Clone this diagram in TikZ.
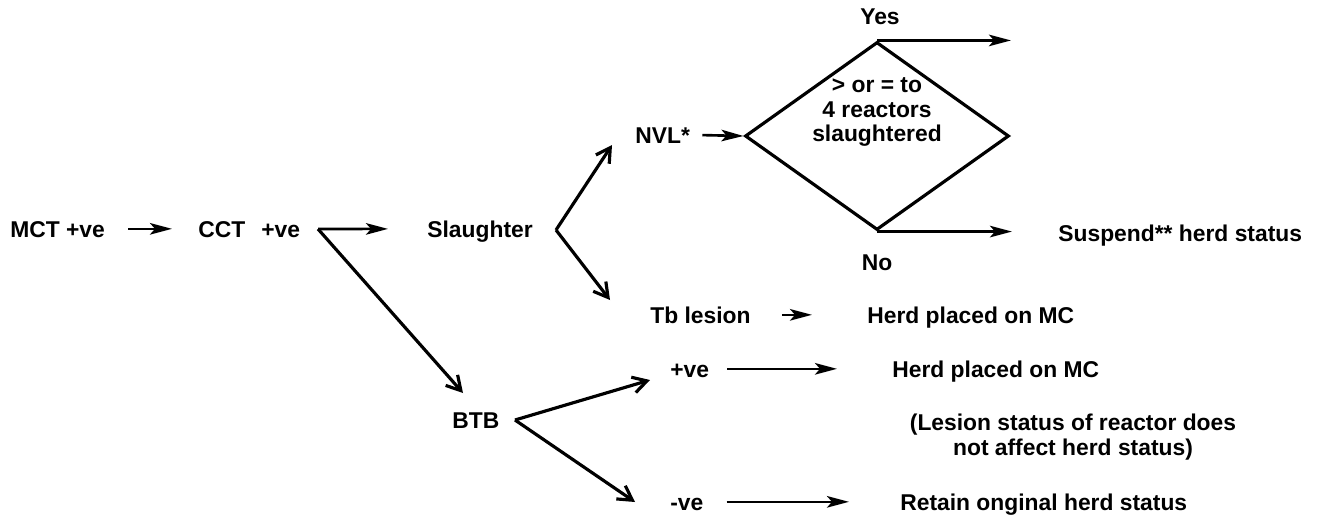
\documentclass[tikz,border=0pt]{standalone}
\usepackage{fontspec}
\setmainfont{Liberation Sans}
\usetikzlibrary{positioning,arrows.meta,calc,shapes.geometric}

\begin{document}
\begin{tikzpicture}[
  x=0.02cm, y=-0.02cm,
  lbl/.style={font=\fontsize{13pt}{14pt}\selectfont\bfseries, inner sep=0pt,
              anchor=base west, text height=9.3pt, text depth=0pt},
  note/.style={font=\fontsize{13pt}{14pt}\selectfont\bfseries, inner sep=0pt, align=center},
  arr/.style={-{Stealth[length=4.4mm, width=2.3mm, inset=1mm]}, line width=1.5pt},
  barb/.style={-{Straight Barb[length=2.8mm, width=3.2mm]}, line width=1.8pt},
  decision/.style={draw, diamond, line width=1.8pt, inner sep=0pt,
                   minimum width=52.8mm, minimum height=37.6mm}
]
\useasboundingbox (0,0) rectangle (1318,517);

% test chain
\node[lbl] (mct) at (10,237) {MCT +ve};
\node[lbl] (cct) at (198,237) {CCT\hspace{0.7em}+ve};
\node[lbl] (slaughter) at (427,237) {Slaughter};
\node[lbl] (btb) at (452,428) {BTB};

% slaughter branch
\node[lbl] (nvl) at (635,143) {NVL*};
\node[decision] (rule4) at (877,136) {};
\node[note] (rule4txt) at (877,112) {> or = to\\4 reactors\\slaughtered};
\node[lbl, anchor=base] (yes) at (880,25) {Yes};
\node[lbl, anchor=base] (no) at (877,270) {No};
\node[lbl] (suspend) at (1058,241) {Suspend** herd status};
\node[lbl] (tb) at (650,323) {Tb lesion};
\node[lbl] (herd1) at (867,323) {Herd placed on MC};

% BTB branch
\node[lbl] (pos) at (670,377) {+ve};
\node[lbl] (herd2) at (892,377) {Herd placed on MC};
\node[note] (lesion) at (1073,437) {(Lesion status of reactor does\\not affect herd status)};
\node[lbl] (neg) at (670,510) {-ve};
\node[lbl] (retain) at (900,510) {Retain onginal herd status};

\coordinate (cctfork) at (318,229);
\coordinate (slfork) at (556,230);
\coordinate (btbfork) at (515,420);
\coordinate (yesend) at ($(rule4.north)+(134,0)$);
\coordinate (noend) at ($(rule4.south)+(135,0)$);

\draw[arr, shorten <=4.6mm, shorten >=5.2mm] (mct) -- (cct);
\draw[arr, shorten >=7.8mm] (cctfork) -- (slaughter.west);
\draw[barb] (cctfork) -- ($(btb.base west)+(11,-35)$);
\draw[barb] (slfork) -- ($(nvl.base west)+(-23,2)$);
\draw[barb] (slfork) -- ($(tb.base west)+(-40,-23)$);
\draw[arr, shorten <=2.4mm] (nvl.east) -- (rule4.west);
\draw[arr] (rule4.north) -- (yesend);
\draw[arr] (rule4.south) -- (noend);
\draw[arr, shorten <=6.2mm, shorten >=11mm] (tb) -- (herd1);
\draw[barb] (btbfork) -- ($(pos.base west)+(-20,3)$);
\draw[barb] (btbfork) -- ($(neg.base west)+(-35,-8)$);
\draw[arr, shorten <=3.6mm, shorten >=11mm] (pos) -- (herd2);
\draw[arr, shorten <=4.6mm, shorten >=10.2mm] (neg) -- (retain);
\end{tikzpicture}
\end{document}
